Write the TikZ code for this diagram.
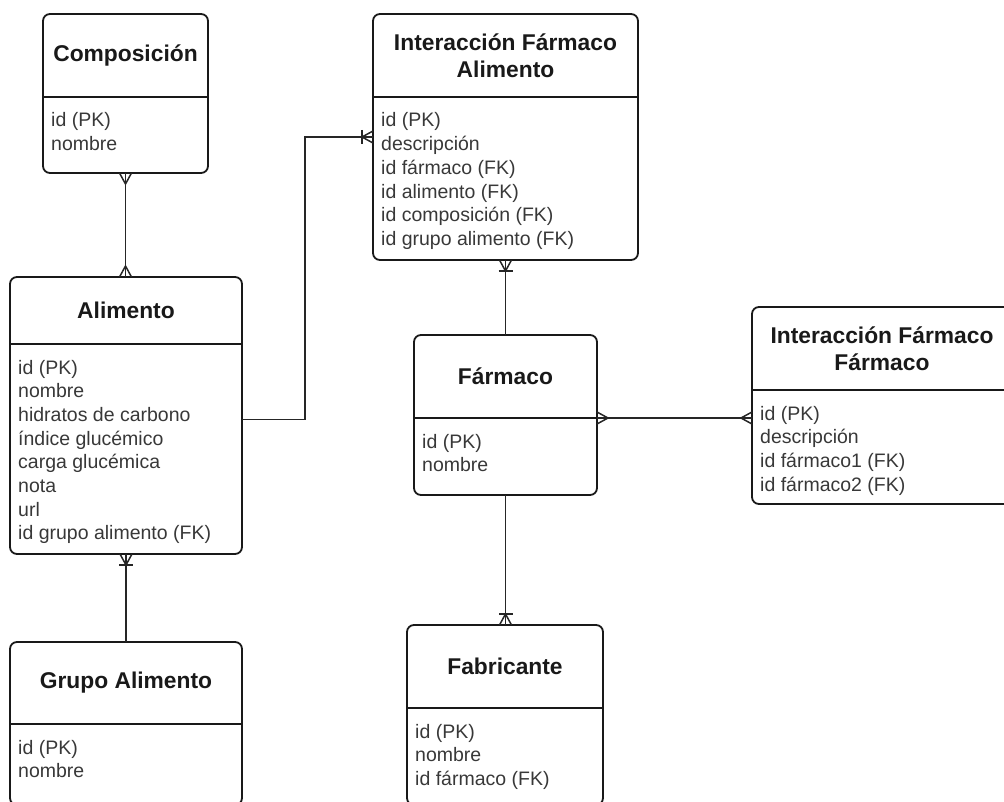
\documentclass[tikz,border=0pt]{standalone}
\usepackage{fontspec}
\setmainfont{Liberation Sans}
\usetikzlibrary{calc}

\tikzset{
  box/.style={draw=black!90, line width=1.8pt, rounded corners=7pt,
    inner sep=0pt, outer sep=0pt, rectangle},
  divider/.style={draw=black!90, line width=1.8pt},
  conn/.style={draw=black!85, line width=1.5pt},
  titletext/.style={font=\fontsize{22.8}{27.4}\selectfont\bfseries,
    text=black!90, align=center, inner sep=0pt},
  fieldtext/.style={font=\fontsize{19.5}{23.5}\selectfont,
    text=black!78, inner sep=0pt, anchor=base west},
}

% Entity table: #1 name, #2 left, #3 top, #4 right, #5 header divider,
% #6 bottom, #7 title, #8 comma separated list of fields
\newcommand{\erentity}[8]{%
  \node[box, minimum width={(#4-#2)*1pt}, minimum height={(#6-#3)*1pt}]
    (#1) at ({(#2+#4)/2},{(#3+#6)/2}) {};
  \draw[divider] (#2,#5) -- (#4,#5);
  \node[titletext] (#1-title) at ({(#2+#4)/2},{(#3+#5)/2}) {#7};
  \foreach \f [count=\i] in {#8}
    \node[fieldtext] (#1-f\i) at (#2+8,{#5+30+(\i-1)*23.7}) {\f};
}

% Crow's foot ("many") at a box border, #2 = outward direction
\newcommand{\crowmany}[2]{%
  \begin{scope}[shift={(#1)}, rotate=#2]
    \draw[conn] (0,6) -- (11,0) -- (0,-6);
  \end{scope}}
% Crow's foot with bar ("one or many")
\newcommand{\crowone}[2]{%
  \begin{scope}[shift={(#1)}, rotate=#2]
    \draw[conn] (0,6) -- (11,0) -- (0,-6);
    \draw[conn] (11,7) -- (11,-7);
  \end{scope}}

\begin{document}
\begin{tikzpicture}[x=1pt, y=-1pt]
  \useasboundingbox (0,0) rectangle (1004,802);
  \clip (0,0) rectangle (1004,802);

  \erentity{comp}{43}{14}{208}{97}{173}{Composición}{id (PK), nombre}
  \erentity{ifa}{373}{14}{638}{97}{260}{Interacción Fármaco\\Alimento}%
    {id (PK), descripción, id fármaco (FK), id alimento (FK),
     id composición (FK), id grupo alimento (FK)}
  \erentity{ali}{10}{277}{242}{344}{554}{Alimento}%
    {id (PK), nombre, hidratos de carbono, índice glucémico,
     carga glucémica, nota, url, id grupo alimento (FK)}
  \erentity{gru}{10}{642}{242}{724}{805}{Grupo Alimento}{id (PK), nombre}
  \erentity{far}{414}{335}{597}{418}{495}{Fármaco}{id (PK), nombre}
  \erentity{fab}{407}{625}{603}{708}{805}{Fabricante}%
    {id (PK), nombre, id fármaco (FK)}
  \erentity{iff}{752}{307}{1012}{390}{504}{Interacción Fármaco\\Fármaco}%
    {id (PK), descripción, id fármaco1 (FK), id fármaco2 (FK)}

  % Composición -- Alimento
  \coordinate (ca) at (comp.south |- ali.north);
  \draw[conn] (comp.south) -- (ca);
  \crowmany{comp.south}{-90}
  \crowmany{ca}{90}

  % Alimento -- Interacción Fármaco Alimento
  \coordinate (ae) at ([yshift=-4pt]ali.east);
  \draw[conn] (ae) -- ++(63,0) |- (ifa.west);
  \crowone{ifa.west}{180}

  % Interacción Fármaco Alimento -- Fármaco
  \draw[conn] (ifa.south) -- (ifa.south |- far.north);
  \crowone{ifa.south}{-90}

  % Fármaco -- Interacción Fármaco Fármaco
  \coordinate (fe) at ([yshift=-3pt]far.east);
  \coordinate (iw) at (fe -| iff.west);
  \draw[conn] (fe) -- (iw);
  \crowmany{fe}{0}
  \crowmany{iw}{180}

  % Fármaco -- Fabricante
  \coordinate (fb) at (far.south |- fab.north);
  \draw[conn] (far.south) -- (fb);
  \crowone{fb}{90}

  % Alimento -- Grupo Alimento
  \draw[conn] (ali.south) -- (ali.south |- gru.north);
  \crowone{ali.south}{-90}
\end{tikzpicture}
\end{document}
